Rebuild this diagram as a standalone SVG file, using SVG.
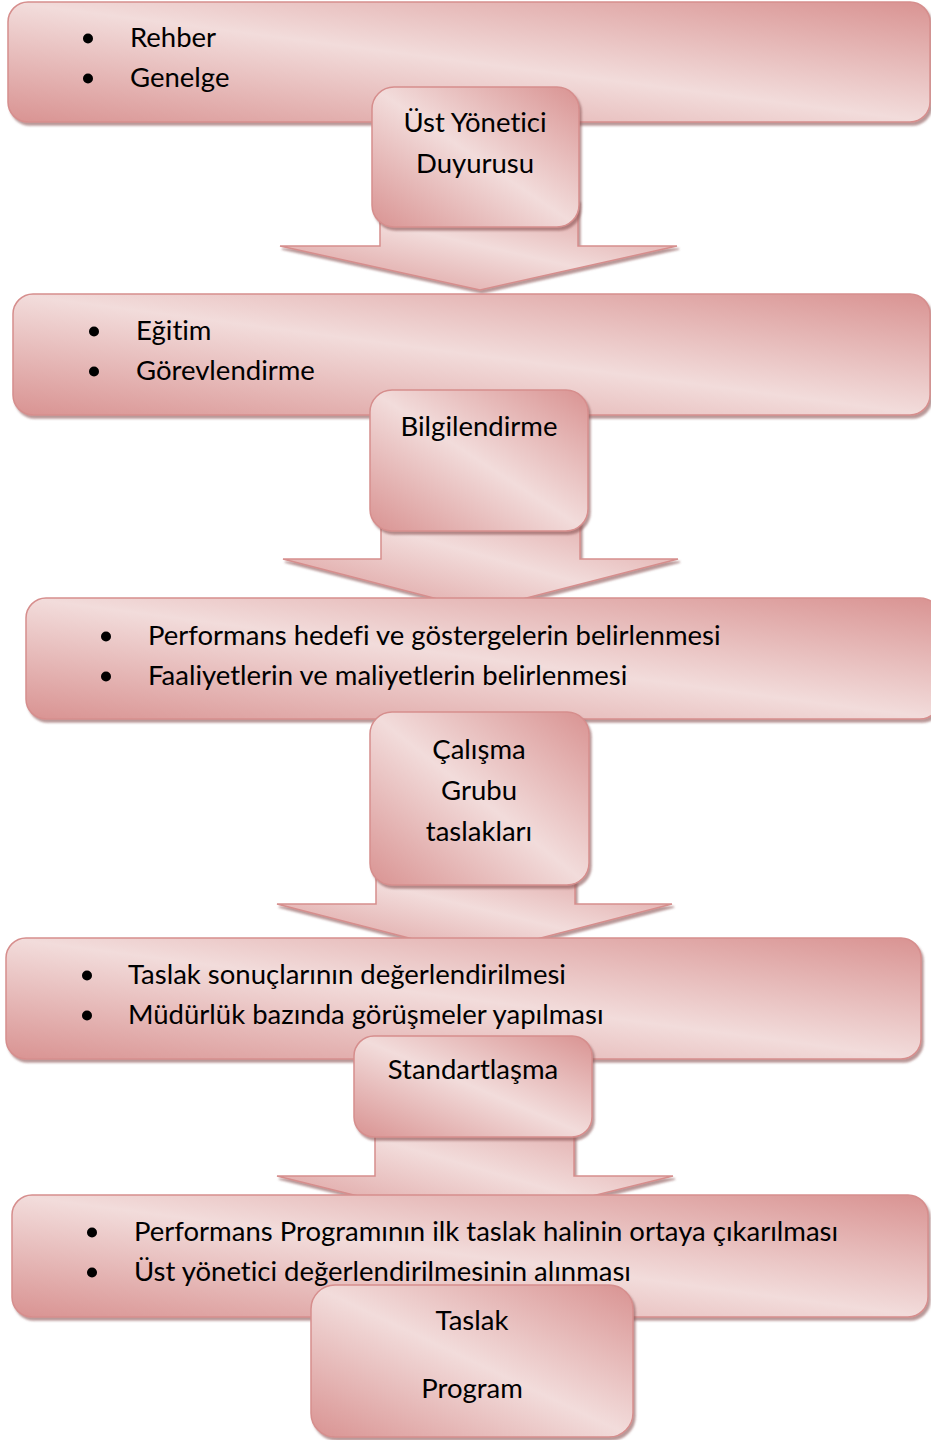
<svg xmlns="http://www.w3.org/2000/svg" width="931" height="1440" viewBox="0 0 931 1440">
<defs>
<linearGradient id="g" x1="1" y1="0" x2="0" y2="1">
<stop offset="0" stop-color="#d99392"/>
<stop offset="0.5" stop-color="#f2dcdb"/>
<stop offset="1" stop-color="#d99392"/>
</linearGradient>
<filter id="sh" x="-5%" y="-10%" width="110%" height="125%">
<feDropShadow dx="2" dy="3" stdDeviation="1" flood-color="#8a5251" flood-opacity="0.6"/>
</filter>
</defs>
<style>
.box{fill:url(#g);stroke:#d68e8d;stroke-width:1.5;filter:url(#sh)}
.arr{fill:url(#g);stroke:#d68e8d;stroke-width:1.5;filter:url(#sh)}
text{font-family:Lato,"Noto Sans",sans-serif;font-size:27.5px;fill:#000;font-variant-ligatures:none}
.c{text-anchor:middle}
.b{fill:#000}
</style>
<g id="connectors">
<polygon class="arr" points="380,200 578,200 578,246 677,246 480,290 280,246 380,246"/>
<polygon class="arr" points="381,500 580,500 580,559 678,559 480,610 283,559 381,559"/>
<polygon class="arr" points="376,860 575,860 575,904 672,904 475,955 277,904 376,904"/>
<polygon class="arr" points="375,1110 574,1110 574,1176 673,1176 475,1225 277,1176 375,1176"/>
</g>
<g id="box1">
<rect class="box" x="8" y="2" width="922" height="120" rx="20"/>
<circle class="b" cx="88" cy="38.5" r="5"/><circle class="b" cx="88" cy="78.5" r="5"/>
<text x="130" y="47">Rehber</text><text x="130" y="87">Genelge</text>
</g>
<g id="node1">
<rect class="box" x="372" y="87" width="207" height="140" rx="22"/>
<text class="c" x="475" y="132">Üst Yönetici</text><text class="c" x="475" y="173">Duyurusu</text>
</g>
<g id="box2">
<rect class="box" x="13" y="294" width="917" height="121" rx="20"/>
<circle class="b" cx="94" cy="331.5" r="5"/><circle class="b" cx="94" cy="371.5" r="5"/>
<text x="136" y="340">Eğitim</text><text x="136" y="380">Görevlendirme</text>
</g>
<g id="node2">
<rect class="box" x="370" y="390" width="218" height="141" rx="22"/>
<text class="c" x="479" y="436">Bilgilendirme</text>
</g>
<g id="box3">
<rect class="box" x="26" y="598" width="914" height="121" rx="20"/>
<circle class="b" cx="106" cy="636.5" r="5"/><circle class="b" cx="106" cy="676.5" r="5"/>
<text x="148" y="645">Performans hedefi ve göstergelerin belirlenmesi</text><text x="148" y="685">Faaliyetlerin ve maliyetlerin belirlenmesi</text>
</g>
<g id="node3">
<rect class="box" x="370" y="712" width="219" height="173" rx="22"/>
<text class="c" x="479" y="759">Çalışma</text><text class="c" x="479" y="800">Grubu</text><text class="c" x="479" y="841">taslakları</text>
</g>
<g id="box4">
<rect class="box" x="6" y="938" width="915" height="121" rx="20"/>
<circle class="b" cx="87" cy="975.5" r="5"/><circle class="b" cx="87" cy="1015.5" r="5"/>
<text x="128" y="984">Taslak sonuçlarının değerlendirilmesi</text><text x="128" y="1024">Müdürlük bazında görüşmeler yapılması</text>
</g>
<g id="node4">
<rect class="box" x="354" y="1036" width="238" height="101" rx="20"/>
<text class="c" x="473" y="1079">Standartlaşma</text>
</g>
<g id="box5">
<rect class="box" x="12" y="1195" width="916" height="122" rx="20"/>
<circle class="b" cx="92" cy="1232.5" r="5"/><circle class="b" cx="92" cy="1272.5" r="5"/>
<text x="134" y="1241">Performans Programının ilk taslak halinin ortaya çıkarılması</text><text x="134" y="1281">Üst yönetici değerlendirilmesinin alınması</text>
</g>
<g id="node5">
<rect class="box" x="311" y="1285" width="322" height="152" rx="24"/>
<text class="c" x="472" y="1330">Taslak</text><text class="c" x="472" y="1398">Program</text>
</g>
</svg>
